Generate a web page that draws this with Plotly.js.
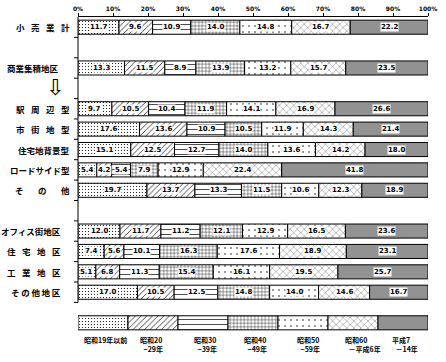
<!DOCTYPE html>
<html><head><meta charset="utf-8">
<script src="https://cdn.plot.ly/plotly-3.0.1.min.js"></script>
<style>html,body{margin:0;padding:0;background:#fff}#chart{width:446px;height:362px}</style>
</head><body><div id="chart"></div>
<script>
// categories (top to bottom)
const categories = ['小売業計','商業集積地区','駅周辺型','市街地型','住宅地背景型','ロードサイド型','その他','オフィス街地区','住宅地区','工業地区','その他地区'];
// series values (%) by construction period
const s1 = [11.7, 13.3,  9.7, 17.6, 15.1,  5.4, 19.7, 12.0,  7.4,  5.1, 17.0];
const s2 = [ 9.6, 11.5, 10.5, 13.6, 12.5,  4.2, 13.7, 11.7,  5.6,  6.8, 10.5];
const s3 = [10.9,  8.9, 10.4, 10.9, 12.7,  5.4, 13.3, 11.2, 10.1, 11.3, 12.5];
const s4 = [14.0, 13.9, 11.9, 10.5, 14.0,  7.9, 11.5, 12.1, 16.3, 15.4, 14.8];
const s5 = [14.8, 13.2, 14.1, 11.9, 13.6, 12.9, 10.6, 12.9, 17.6, 16.1, 14.0];
const s6 = [16.7, 15.7, 16.9, 14.3, 14.2, 22.4, 12.3, 16.5, 18.9, 19.5, 14.6];
const s7 = [22.2, 23.5, 26.6, 21.4, 18.0, 41.8, 18.9, 23.6, 23.1, 25.7, 16.7];
// legend labels
const seriesNames = ['昭和19年以前','昭和20～29年','昭和30～39年','昭和40～49年','昭和50～59年','昭和60～平成6年','平成7～14年'];
const legendLine1 = ['昭和19年以前','昭和20','昭和30','昭和40','昭和50','昭和60','平成7'];
const legendLine2 = ['','−29年','−39年','−49年','−59年','－平成6年','－14年'];
// tick labels
const xTicks = [0,10,20,30,40,50,60,70,80,90,100];
const xTickLabels = ['0%','10%','20%','30%','40%','50%','60%','70%','80%','90%','100%'];

const series = [s1,s2,s3,s4,s5,s6,s7];
const totals = categories.map((c,j)=>series.reduce((a,s)=>a+s[j],0));
const starts = series.map((s,i)=>categories.map((c,j)=>{
  let acc = 0; for (let k=0;k<i;k++) acc += series[k][j]; return acc/totals[j]*100;
}));
const keyShare = 100/seriesNames.length;
const KEY = '凡例';

const S = '\u2002\u2009\u200a';
const displayLabels = {
  '小売業計':'小'+S+'売'+S+'業'+S+'計',
  '商業集積地区':'商業集積地区',
  '駅周辺型':'駅'+S+'周'+S+'辺'+S+'型',
  '市街地型':'市'+S+'街'+S+'地'+S+'型',
  '住宅地背景型':'住宅地背景型',
  'ロードサイド型':'ロードサイド型',
  'その他':'そ\u3000\u2002\u2009の\u3000\u2002\u2009他',
  'オフィス街地区':'オフィス街地区',
  '住宅地区':'住'+S+'宅'+S+'地'+S+'区',
  '工業地区':'工'+S+'業'+S+'地'+S+'区',
  'その他地区':'そ\u2009の\u2009他\u2009地\u2009区'
};
const axisOrder = ['小売業計','_b1','商業集積地区','_b2','駅周辺型','市街地型','住宅地背景型','ロードサイド型','その他','_b3','オフィス街地区','住宅地区','工業地区','その他地区', KEY];
const mainSlots = axisOrder.length - 1;

const patterns = [
  {shape:'.', size:3, solidity:0.12, fgcolor:'#000', bgcolor:'#fff'},
  {shape:'/', size:4, solidity:0.18, fgcolor:'#000', bgcolor:'#fff'},
  {shape:'-', size:5, solidity:0.14, fgcolor:'#000', bgcolor:'#fff'},
  {shape:'+', size:3.5, solidity:0.22, fgcolor:'#000', bgcolor:'#fff'},
  {shape:'.', size:6, solidity:0.05, fgcolor:'#000', bgcolor:'#fff'},
  {shape:'x', size:5, solidity:0.1, fgcolor:'#000', bgcolor:'#fff'},
  {shape:'.', size:2, solidity:0.35, fgcolor:'#555', bgcolor:'#b4b4b4'}
];

const BW = 0.69;
const traces = [];
series.forEach((vals,i)=>{
  const xs = vals.map((v,j)=>v/totals[j]*100).concat([keyShare]);
  const bs = starts[i].concat([i*keyShare]);
  const ys = categories.concat([KEY]);
  const offs = categories.map(()=>-BW/2).concat([-BW/2+0.5]);
  const wids = ys.map(()=>BW);
  traces.push({type:'bar', orientation:'h', uid:'s'+i, x:xs, base:bs, y:ys, name:seriesNames[i],
    offset:offs, width:wids, cliponaxis:false,
    marker:{color:patterns[i].bgcolor, pattern:Object.assign({}, patterns[i]), line:{color:'#000', width:1}},
    hoverinfo:'x+y', showlegend:false});
});

const annotations = [];
const numFont = {family:'DejaVu Sans', size:7, color:'#000', weight:'bold'};
categories.forEach((c,j)=>{
  series.forEach((s,i)=>{
    const v = s[j];
    annotations.push({xref:'x', yref:'y', x:starts[i][j] + v/totals[j]*50, y:c, text:v.toFixed(1),
      showarrow:false, font:numFont, bgcolor:'#fff', borderpad:0});
  });
});
// category labels
const lower = ['オフィス街地区','住宅地区','工業地区','その他地区'];
categories.forEach(c=>{
  let a = {xref:'paper', yref:'y', y:c, text:displayLabels[c], showarrow:false,
    font:{family:'Noto Sans CJK JP', size:8.5, color:'#000', weight:'bold'}};
  if (c==='商業集積地区'){ a.x = (5-78)/350; a.xanchor='left'; }
  else if (lower.includes(c)){ a.x = (63-78)/350; a.xanchor='right'; }
  else { a.x = (72-78)/350; a.xanchor='right'; }
  annotations.push(a);
});
// arrow
annotations.push({xref:'paper', yref:'y', x:(44-78)/350, y:'_b2', text:'⇩', showarrow:false,
  font:{family:'DejaVu Sans', size:22, color:'#000'}, yshift:1});
// legend labels under key bar
const legFont = {family:'Noto Sans CJK JP', size:7, color:'#000', weight:'bold'};
const legX = [105, 138, 192, 242, 295, 343, 390];
legendLine1.forEach((t,i)=>{
  const xp = (legX[i]-78)/3.5;
  if (i===0){
    annotations.push({xref:'x', yref:'paper', x:xp, y:0.0, yanchor:'top', xanchor:'center',
      text:t, showarrow:false, font:legFont});
  } else {
    annotations.push({xref:'x', yref:'paper', x:xp, y:0.0, yanchor:'top', xanchor:'left', align:'left',
      text:t+'<br>\u2002'+legendLine2[i], showarrow:false, font:legFont});
  }
});

// left axis line and boundary ticks for the main block only
const shapes = [{type:'line', xref:'paper', yref:'y', x0:0, x1:0, y0:-0.5, y1:mainSlots-0.5,
  line:{color:'#000', width:1}}];
for (let k=0; k<mainSlots; k++){
  shapes.push({type:'line', xref:'paper', yref:'y', x0:-4/350, x1:0, y0:k+0.5, y1:k+0.5,
    line:{color:'#000', width:1}});
}

const layout = {
  width:446, height:362,
  margin:{l:78, r:18, t:17, b:28.5},
  barmode:'overlay',
  paper_bgcolor:'#fff', plot_bgcolor:'rgba(0,0,0,0)',
  showlegend:false,
  xaxis:{side:'top', range:[0,100], tickmode:'array', tickvals:xTicks, ticktext:xTickLabels, ticks:'outside', ticklen:3,
    tickcolor:'#000', showline:true, linecolor:'#000', linewidth:1, showgrid:false, zeroline:false,
    tickfont:{family:'DejaVu Sans', size:6, color:'#000', weight:'bold'}, fixedrange:true},
  yaxis:{type:'category', categoryorder:'array', categoryarray:axisOrder,
    range:[mainSlots+1, -0.5], showticklabels:false, ticks:'', showline:false,
    showgrid:false, zeroline:false, fixedrange:true},
  shapes:shapes,
  annotations:annotations
};
Plotly.newPlot('chart', traces, layout, {staticPlot:true, displayModeBar:false});
</script></body></html>
